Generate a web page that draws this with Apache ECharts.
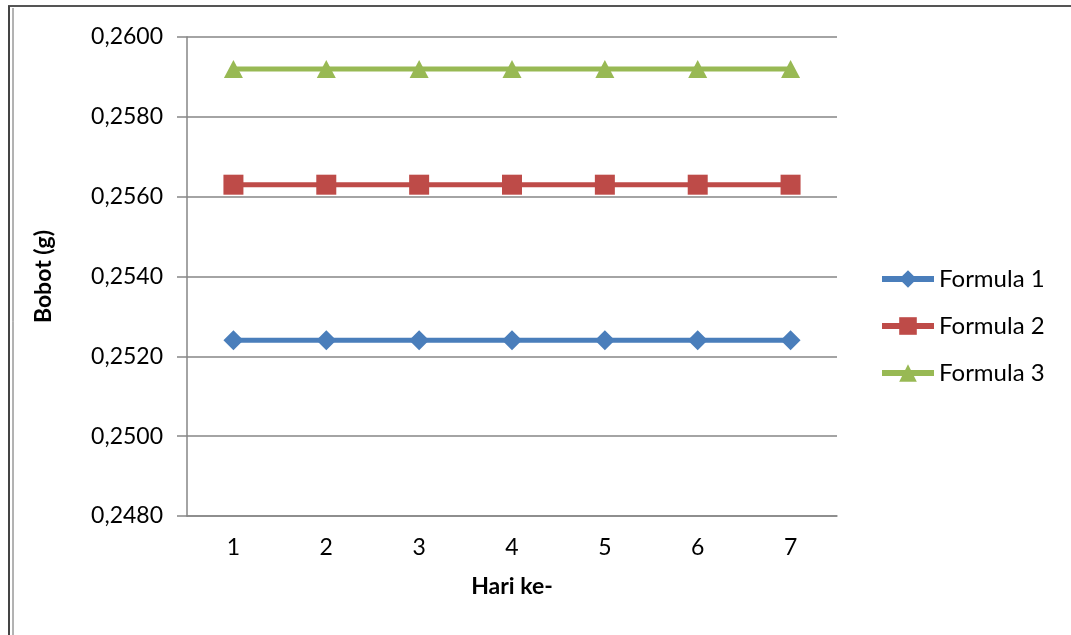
<!DOCTYPE html>
<html>
<head>
<meta charset="utf-8">
<script src="https://cdn.jsdelivr.net/npm/echarts@6/dist/echarts.min.js"></script>
<style>
html,body{margin:0;padding:0;background:#fff;}
#chart{width:1071px;height:635px;}
</style>
</head>
<body>
<div id="chart"></div>
<script>
const categories = ['1','2','3','4','5','6','7'];
const formula1 = [0.2524,0.2524,0.2524,0.2524,0.2524,0.2524,0.2524];
const formula2 = [0.2563,0.2563,0.2563,0.2563,0.2563,0.2563,0.2563];
const formula3 = [0.2592,0.2592,0.2592,0.2592,0.2592,0.2592,0.2592];
const seriesNames = ['Formula 1','Formula 2','Formula 3'];

const FONT = 'Lato, "Open Sans", sans-serif';
const FS = 23;
const chart = echarts.init(document.getElementById('chart'));
chart.setOption({
  animation:false,
  backgroundColor:'#ffffff',
  textStyle:{fontFamily:FONT},
  graphic:[
    {type:'line',shape:{x1:8,y1:6,x2:1071,y2:6},style:{stroke:'#555',lineWidth:2}},
    {type:'line',shape:{x1:9,y1:6,x2:9,y2:635},style:{stroke:'#444',lineWidth:2}},
    {type:'line',shape:{x1:13,y1:8,x2:13,y2:635},style:{stroke:'#666',lineWidth:1}}
  ],
  grid:{left:187,right:234,top:37,bottom:119,containLabel:false},
  legend:{
    orient:'vertical',
    left:874,
    top:262,
    itemWidth:52,
    itemHeight:22,
    itemGap:23,
    lineStyle:{width:6},
    textStyle:{fontSize:24,color:'#000',fontFamily:FONT},
    data:seriesNames
  },
  xAxis:{
    type:'category',
    data:categories,
    boundaryGap:true,
    name:'Hari ke-',
    nameLocation:'middle',
    nameGap:59,
    nameTextStyle:{fontSize:23,fontWeight:'bold',color:'#000'},
    axisLine:{lineStyle:{color:'#868686',width:1.5}},
    axisTick:{show:false},
    axisLabel:{fontSize:FS,color:'#000',margin:20}
  },
  yAxis:{
    type:'value',
    min:0.248,
    max:0.26,
    interval:0.002,
    name:'Bobot (g)',
    nameLocation:'middle',
    nameGap:132,
    nameRotate:90,
    nameTextStyle:{fontSize:23,fontWeight:'bold',color:'#000'},
    axisLine:{show:true,lineStyle:{color:'#868686',width:1.5}},
    axisTick:{show:true,length:10,lineStyle:{color:'#868686',width:1.5}},
    axisLabel:{fontSize:FS,color:'#000',margin:24,formatter:function(v){return v.toFixed(4).replace('.',',');}},
    splitLine:{show:true,lineStyle:{color:'#868686',width:1.5}}
  },
  series:[
    {name:seriesNames[0],type:'line',data:formula1,symbol:'diamond',symbolSize:[20,20],
     itemStyle:{color:'#4A7EBB'},lineStyle:{color:'#4A7EBB',width:5}},
    {name:seriesNames[1],type:'line',data:formula2,symbol:'rect',symbolSize:[20,20],
     itemStyle:{color:'#BE4B48'},lineStyle:{color:'#BE4B48',width:5}},
    {name:seriesNames[2],type:'line',data:formula3,symbol:'triangle',symbolSize:[19,18],
     itemStyle:{color:'#98B954'},lineStyle:{color:'#98B954',width:5}}
  ]
});
</script>
</body>
</html>
